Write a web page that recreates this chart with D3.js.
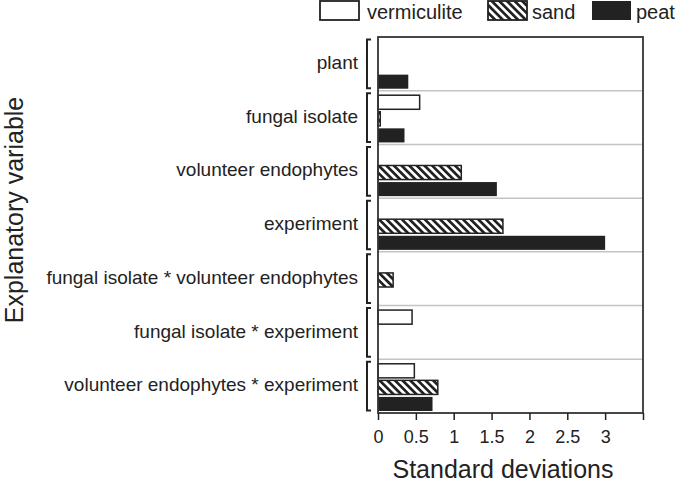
<!DOCTYPE html>
<html>
<head>
<meta charset="utf-8">
<script src="https://cdn.jsdelivr.net/npm/d3@7"></script>
<style>
  body { margin: 0; background: #fff; }
  svg { display: block; font-family: "Liberation Sans", Arial, sans-serif; }
</style>
</head>
<body>
<div id="chart"></div>
<script>
// Data
const variables = [
    "plant",
    "fungal isolate",
    "volunteer endophytes",
    "experiment",
    "fungal isolate * volunteer endophytes",
    "fungal isolate * experiment",
    "volunteer endophytes * experiment"
];
const substrates = ["vermiculite", "sand", "peat"];
// null = no bar drawn
const vermiculite = [null, 0.55, null, null, null, 0.45, 0.48];
const sand        = [null, 0.03, 1.10, 1.65, 0.20, null, 0.79];
const peat        = [0.40, 0.35, 1.57, 3.00, null, null, 0.72];
const xTicks = [0, 0.5, 1, 1.5, 2, 2.5, 3, 3.5];

const seriesValues = { vermiculite, sand, peat };

const width = 685, height = 489;
const margin = { top: 37, right: 42, bottom: 76, left: 378 };
const innerW = width - margin.left - margin.right;
const innerH = height - margin.top - margin.bottom;
const ink = "#222";

const svg = d3.select("#chart").append("svg")
    .attr("width", width)
    .attr("height", height);

// Hatch pattern for sand
const defs = svg.append("defs");
defs.append("pattern")
    .attr("id", "hatch")
    .attr("patternUnits", "userSpaceOnUse")
    .attr("width", 5.4)
    .attr("height", 5.4)
    .attr("patternTransform", "rotate(-45)")
    .call(p => {
        p.append("rect").attr("width", 5.4).attr("height", 5.4).attr("fill", "#fff");
        p.append("rect").attr("width", 2.7).attr("height", 5.4).attr("fill", ink);
    });

const fills = { vermiculite: "#fff", sand: "url(#hatch)", peat: ink };

const x = d3.scaleLinear().domain([0, 3.5]).range([0, innerW]);
const y = d3.scaleBand().domain(variables).range([0, innerH]);
const yInner = d3.scaleBand().domain(substrates)
    .range([4.5, y.bandwidth() - 2]).paddingInner(0.15);

const g = svg.append("g").attr("transform", `translate(${margin.left},${margin.top})`);

// Group separators
g.append("g")
    .selectAll("line")
    .data(variables.slice(1))
    .join("line")
    .attr("x1", 0).attr("x2", innerW)
    .attr("y1", d => y(d)).attr("y2", d => y(d))
    .attr("stroke", "#c4c4c4")
    .attr("stroke-width", 1.5);

// Bars
const barData = [];
variables.forEach((v, i) => {
    substrates.forEach(s => {
        const val = seriesValues[s][i];
        if (val !== null) barData.push({ variable: v, substrate: s, value: val });
    });
});

g.append("g")
    .selectAll("rect")
    .data(barData)
    .join("rect")
    .attr("x", x(0))
    .attr("y", d => y(d.variable) + yInner(d.substrate))
    .attr("width", d => x(d.value) - x(0))
    .attr("height", yInner.bandwidth())
    .attr("fill", d => fills[d.substrate])
    .attr("stroke", ink)
    .attr("stroke-width", d => d.substrate === "peat" ? 0 : 1.5);

// Frame
g.append("rect")
    .attr("width", innerW)
    .attr("height", innerH)
    .attr("fill", "none")
    .attr("stroke", "#333")
    .attr("stroke-width", 1.8);

// X axis
const xAxis = g.append("g")
    .attr("transform", `translate(0,${innerH})`)
    .call(d3.axisBottom(x)
        .tickValues(xTicks)
        .tickSize(7)
        .tickPadding(10)
        .tickFormat(d => d === 3.5 ? "" : d3.format("")(d)));
xAxis.select(".domain").remove();
xAxis.selectAll(".tick line").attr("stroke", ink).attr("stroke-width", 1.5);
xAxis.selectAll(".tick text")
    .attr("fill", ink)
    .style("font-size", "18px")
    .style("font-family", "Liberation Sans, Arial, sans-serif");

// Brackets and category labels
const brackets = g.append("g");
variables.forEach(v => {
    const y0 = y(v) + 2.5, y1 = y(v) + y.bandwidth() - 2.5;
    const bx = -11;
    brackets.append("path")
        .attr("d", `M${bx + 4},${y0}H${bx}V${y1}H${bx + 4}`)
        .attr("fill", "none")
        .attr("stroke", ink)
        .attr("stroke-width", 2);
    brackets.append("text")
        .attr("x", -20)
        .attr("y", y(v) + y.bandwidth() / 2 - 1.5)
        .attr("dy", "0.35em")
        .attr("text-anchor", "end")
        .attr("fill", ink)
        .style("font-size", "19px")
        .text(v);
});

// Axis titles
svg.append("text")
    .attr("x", margin.left + 125)
    .attr("y", 478)
    .attr("text-anchor", "middle")
    .attr("fill", ink)
    .style("font-size", "25px")
    .text("Standard deviations");

svg.append("text")
    .attr("transform", "translate(23,210) rotate(-90)")
    .attr("text-anchor", "middle")
    .attr("fill", ink)
    .style("font-size", "25px")
    .text("Explanatory variable");

// Legend
const legendX = [320, 488, 592];
const legend = svg.append("g");
substrates.forEach((s, i) => {
    legend.append("rect")
        .attr("x", legendX[i])
        .attr("y", 1)
        .attr("width", 39)
        .attr("height", 19)
        .attr("fill", fills[s])
        .attr("stroke", ink)
        .attr("stroke-width", s === "peat" ? 0 : 1.8);
    legend.append("text")
        .attr("x", legendX[i] + 39 + (i === 0 ? 8 : 5))
        .attr("y", 18.5)
        .attr("fill", ink)
        .style("font-size", "20px")
        .text(s);
});
</script>
</body>
</html>
